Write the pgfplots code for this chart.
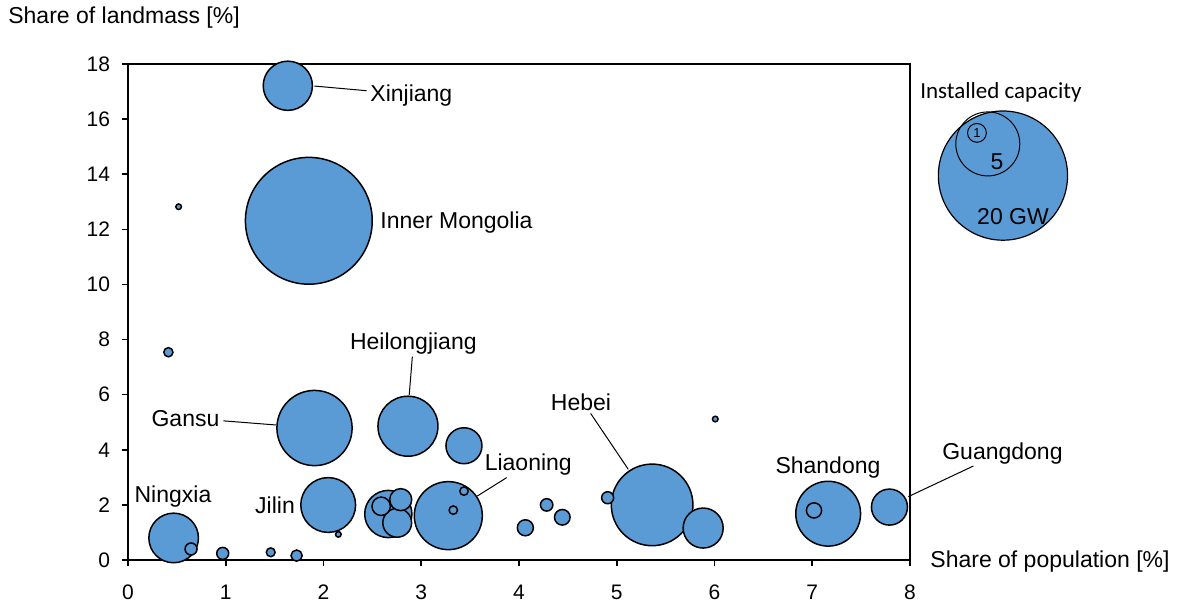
\documentclass[border=0pt]{standalone}
\usepackage{fontspec}
\setmainfont{Liberation Sans}
\newfontfamily\calibri{Carlito}
\usepackage{pgfplots}
\usepackage{pgfplotstable}
\pgfplotsset{compat=1.18}
\definecolor{bub}{RGB}{91,155,213}
\tikzset{lbl/.style={font=\fontsize{11.5}{13}\selectfont, inner sep=0pt}}

\pgfplotstableread{
x y r
1.850 12.31 31.7
5.362 2.00 20.4
1.908 4.79 18.8
3.277 1.61 17.0
7.163 1.68 16.2
2.864 4.855 15.0
2.048 1.996 13.7
1.635 17.21 12.3
0.467 0.80 12.4
2.663 1.67 11.8
5.884 1.16 10.0
7.790 1.92 9.0
3.437 4.147 9.0
2.754 1.35 7.2
2.790 2.19 5.5
2.590 1.95 4.6
4.065 1.17 4.0
4.443 1.55 3.9
7.018 1.80 3.8
4.283 2.00 3.1
0.645 0.40 3.0
4.907 2.26 3.0
0.969 0.24 3.0
1.725 0.16 2.8
0.413 7.54 2.3
1.460 0.28 2.2
3.328 1.81 2.1
3.437 2.50 2.1
2.152 0.93 1.4
0.518 12.82 1.4
6.008 5.116 1.4
}\bubbles

\pgfplotstableread{
x y r
8.951 13.95 32.3
}\legbig

\pgfplotstableread{
x y r
8.796 15.10 16.0
8.685 15.50 4.7
}\legsmall

\begin{document}
\begin{tikzpicture}
\useasboundingbox (-64pt,-23pt) rectangle (524.5pt,280pt);
\begin{axis}[
  scale only axis, width=391pt, height=248pt,
  xmin=0, xmax=8, ymin=0, ymax=18,
  xtick={0,...,8}, ytick={0,2,...,18},
  tick align=outside, xtick pos=bottom, ytick pos=left,
  major tick length=3pt,
  axis line style={line width=0.8pt},
  every tick/.style={black, line width=0.8pt},
  ticklabel style={font=\fontsize{10.5}{12}\selectfont},
  /pgf/number format/assume math mode=true,
  xticklabel style={yshift=-6pt},
  yticklabel style={xshift=-2.5pt},
  clip=false,
]
\addplot[scatter, only marks, mark=*,
  scatter/use mapped color={draw=black, fill=bub},
  mark options={line width=0.75pt},
  visualization depends on={\thisrow{r} \as \rad},
  scatter/@pre marker code/.append style={/tikz/mark size=\rad}]
  table {\bubbles};
\addplot[scatter, only marks, mark=*,
  scatter/use mapped color={draw=black, fill=bub},
  mark options={line width=0.6pt},
  visualization depends on={\thisrow{r} \as \rad},
  scatter/@pre marker code/.append style={/tikz/mark size=\rad}]
  table {\legbig};
\addplot[scatter, only marks, mark=o,
  scatter/use mapped color={draw=black},
  mark options={line width=0.5pt},
  visualization depends on={\thisrow{r} \as \rad},
  scatter/@pre marker code/.append style={/tikz/mark size=\rad}]
  table {\legsmall};

% labels
\node[lbl, anchor=west] at (axis cs:2.476,16.84) {Xinjiang};
\draw[line width=0.5pt] (axis cs:1.906,17.20) -- (axis cs:2.442,17.03);
\node[lbl, anchor=west] at (axis cs:2.578,12.26) {Inner Mongolia};
\node[lbl] at (axis cs:2.919,7.86) {Heilongjiang};
\draw[line width=0.5pt] (axis cs:2.909,7.38) -- (axis cs:2.877,5.99);
\node[lbl] at (axis cs:0.588,5.12) {Gansu};
\draw[line width=0.5pt] (axis cs:0.975,5.05) -- (axis cs:1.514,4.90);
\node[lbl] at (axis cs:4.634,5.73) {Hebei};
\draw[line width=0.5pt] (axis cs:4.733,5.32) -- (axis cs:5.118,3.29);
\node[lbl] at (axis cs:4.095,3.48) {Liaoning};
\draw[line width=0.5pt] (axis cs:3.573,2.32) -- (axis cs:3.874,2.99);
\node[lbl] at (axis cs:7.161,3.37) {Shandong};
\node[lbl] at (axis cs:8.946,3.87) {Guangdong};
\draw[line width=0.5pt] (axis cs:7.983,2.30) -- (axis cs:8.648,3.41);
\node[lbl] at (axis cs:0.46,2.29) {Ningxia};
\node[lbl] at (axis cs:1.504,2.0) {Jilin};

% axis titles
\node[lbl, anchor=west] at (axis cs:-1.228,19.67) {Share of landmass [\%]};
\node[lbl, anchor=west] at (axis cs:8.205,-0.04) {Share of population [\%]};

% legend anchors
\node[lbl, anchor=west, font=\calibri\fontsize{11.5}{13}\selectfont] at (axis cs:8.102,16.98) {Installed capacity};
\coordinate (L5) at (axis cs:8.890,14.44);
\coordinate (L20) at (axis cs:9.054,12.45);
\coordinate (L1) at (axis cs:8.685,15.49);
\end{axis}
\node[lbl] at (L5) {5};
\node[lbl] at (L20) {20 GW};
\node[inner sep=0pt, font=\fontsize{6.5}{7}\selectfont] at (L1) {1};
\end{tikzpicture}
\end{document}
